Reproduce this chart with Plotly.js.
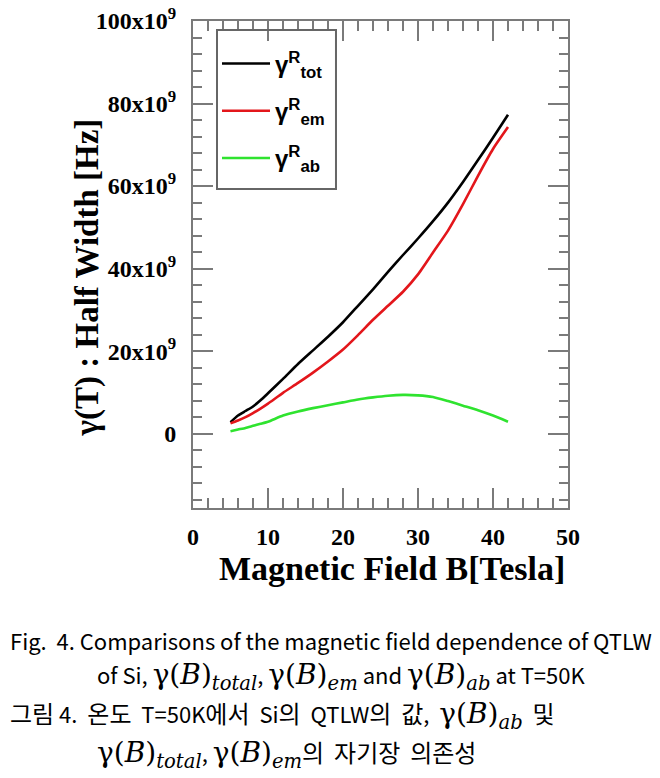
<!DOCTYPE html>
<html>
<head>
<meta charset="utf-8">
<script src="https://cdn.plot.ly/plotly-3.0.1.min.js"></script>
<style>html,body{margin:0;padding:0;background:#fff;}#chart{width:660px;height:778px;}</style>
</head>
<body>
<div id="chart"></div>
<script>
// Magnetic field B [Tesla]
const fieldB = [5,6,7,8,9,10,12,14,16,18,20,22,24,26,28,30,32,34,36,38,40,42];
// Half widths (units of 1e9 Hz)
const gammaTot = [2.8,4.4,5.5,6.6,8.1,9.8,13.3,16.9,20.2,23.5,27.0,31.0,35.0,39.2,43.3,47.3,51.5,56.0,61.0,66.3,71.7,77.3];
const gammaEm  = [2.5,3.2,4.0,5.0,6.1,7.3,9.9,12.3,14.8,17.5,20.4,23.9,27.6,31.0,34.4,38.6,43.9,49.2,55.6,62.5,69.0,74.3];
const gammaAb  = [0.6,1.0,1.4,1.9,2.4,2.9,4.4,5.4,6.2,6.9,7.6,8.3,8.8,9.2,9.4,9.3,8.9,7.9,6.8,5.7,4.4,2.9];
const seriesNames = ["γ<sup>R</sup><sub>tot</sub>","γ<sup>R</sup><sub>em</sub>","γ<sup>R</sup><sub>ab</sub>"];
const yTickVals = [0,20,40,60,80,100];
const yTickText = ["0","20x10<sup>9</sup>","40x10<sup>9</sup>","60x10<sup>9</sup>","80x10<sup>9</sup>","100x10<sup>9</sup>"];
const xTickVals = [0,10,20,30,40,50];

const scale = 1e9;
const colors = ["#000000","#e3161b","#2fe32f"];
const seriesData = [gammaTot, gammaEm, gammaAb];

const traces = seriesData.map((arr,i)=>({
  x: fieldB,
  y: arr.map(v=>v*scale),
  type: 'scatter',
  mode: 'lines',
  name: seriesNames[i],
  legendgroup: 'g'+i,
  line: {color: colors[i], width: 2.6, shape: 'spline', smoothing: 0.5}
}));

const axisColor = '#7a7a7a';
const tickFont = {family: 'Liberation Serif, Times New Roman, serif', size: 24, color: '#000', weight: 'bold'};
const capFont = {family: 'Noto Sans CJK KR, sans-serif', size: 22, color: '#000'};
const m = s => '<span style="font-family:DejaVu Serif;font-size:28px">' + s + '</span>';
const k = s => '<span style="font-size:24px">' + s + '</span>';
const sp = '&nbsp;&nbsp;';

const layout = {
  width: 660, height: 778,
  paper_bgcolor: '#fff', plot_bgcolor: '#fff',
  margin: {l: 193, r: 92, t: 21, b: 270, pad: 0},
  showlegend: true,
  legend: {
    x: 0.064, y: 0.958, xanchor: 'left', yanchor: 'top',
    borderwidth: 0, bgcolor: 'rgba(0,0,0,0)',
    font: {family: 'Liberation Sans, Arial, sans-serif', size: 24, color: '#000', weight: 'bold'},
    tracegroupgap: 13, traceorder: 'grouped', itemwidth: 48
  },
  shapes: [
    {type: 'rect', xref: 'paper', yref: 'paper', x0: 0.064, x1: 0.3813, y0: 0.655, y1: 0.9815,
     line: {color: '#666', width: 2}, fillcolor: 'rgba(0,0,0,0)', layer: 'above'}
  ],
  xaxis: {
    range: [0,50], tickvals: xTickVals, ticktext: xTickVals.map(String),
    ticks: 'inside', ticklen: 20, tickwidth: 2, tickcolor: axisColor,
    minor: {dtick: 2, ticks: 'inside', ticklen: 10, tickwidth: 2, tickcolor: axisColor},
    showline: true, linecolor: axisColor, linewidth: 2, mirror: 'ticks',
    showgrid: false, zeroline: false, tickfont: tickFont, ticklabelstandoff: 6
  },
  yaxis: {
    range: [-18*scale, 100*scale], tickvals: yTickVals.map(v=>v*scale), ticktext: yTickText,
    ticks: 'inside', ticklen: 20, tickwidth: 2, tickcolor: axisColor,
    minor: {dtick: 4*scale, ticks: 'inside', ticklen: 9, tickwidth: 2, tickcolor: axisColor},
    showline: true, linecolor: axisColor, linewidth: 2, mirror: 'ticks',
    showgrid: false, zeroline: false, tickfont: tickFont, ticklabelstandoff: 10
  },
  annotations: [
    {text: 'Magnetic Field B[Tesla]', xref: 'paper', yref: 'paper', x: 0.531, y: -0.125,
     xanchor: 'center', yanchor: 'middle', showarrow: false,
     font: {family: 'Liberation Serif, Times New Roman, serif', size: 34, color: '#000', weight: 'bold'}},
    {text: 'γ(T) : Half Width [Hz]', xref: 'paper', yref: 'paper', x: -0.282, y: 0.474,
     xanchor: 'center', yanchor: 'middle', textangle: -90, showarrow: false,
     font: {family: 'Liberation Serif, Times New Roman, serif', size: 33, color: '#000', weight: 'bold'}},
    {text: 'Fig.  4. Comparisons of the magnetic field dependence of QTLW', xref: 'paper', yref: 'paper',
     x: -0.4925, y: -0.271, xanchor: 'left', yanchor: 'middle', showarrow: false, font: capFont},
    {text: 'of Si, ' + m('γ(<i>B</i>)<sub><i>total</i></sub>') + ', ' + m('γ(<i>B</i>)<sub><i>em</i></sub>') + ' and ' + m('γ(<i>B</i>)<sub><i>ab</i></sub>') + ' at T=50K',
     xref: 'paper', yref: 'paper', x: -0.2605, y: -0.347, xanchor: 'left', yanchor: 'middle', showarrow: false, font: capFont},
    {text: k('그림') + ' 4.' + sp + k('온도') + sp + 'T=50K' + k('에서') + sp + 'Si' + k('의') + sp + 'QTLW' + k('의') + sp + k('값') + ',' + sp + m('γ(<i>B</i>)<sub><i>ab</i></sub>') + sp + k('및'),
     xref: 'paper', yref: 'paper', x: -0.4925, y: -0.425, xanchor: 'left', yanchor: 'middle', showarrow: false, font: capFont},
    {text: m('γ(<i>B</i>)<sub><i>total</i></sub>') + ', ' + m('γ(<i>B</i>)<sub><i>em</i></sub>') + k('의') + sp + k('자기장') + sp + k('의존성'),
     xref: 'paper', yref: 'paper', x: -0.2605, y: -0.505, xanchor: 'left', yanchor: 'middle', showarrow: false, font: capFont}
  ]
};

Plotly.newPlot('chart', traces, layout, {displayModeBar: false, staticPlot: true});
</script>
</body>
</html>
